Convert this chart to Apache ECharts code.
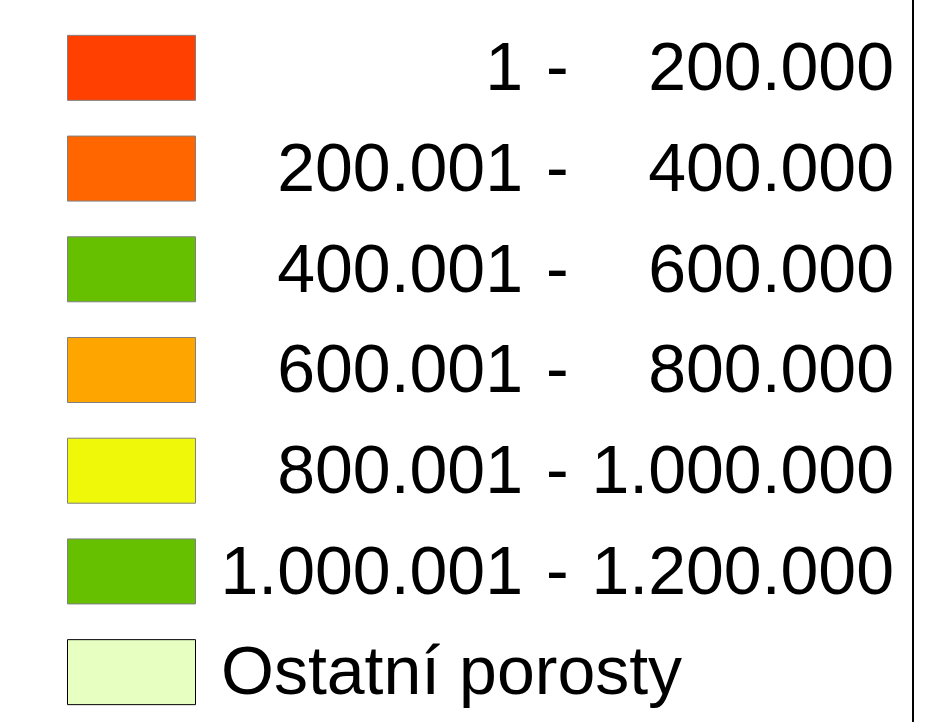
<!DOCTYPE html>
<html>
<head>
<meta charset="utf-8">
<style>
  html, body { margin: 0; padding: 0; background: #fff; }
  #legendChart { width: 928px; height: 722px; }
</style>
<script src="https://cdn.jsdelivr.net/npm/echarts@6/dist/echarts.min.js"></script>
</head>
<body>
<div id="legendChart"></div>
<script>
// legend classes (lower bound, upper bound) and their fill colours
const rangeFrom = ['1', '200.001', '400.001', '600.001', '800.001', '1.000.001', 'Ostatní porosty'];
const rangeTo = ['200.000', '400.000', '600.000', '800.000', '1.000.000', '1.200.000', ''];
const swatchColors = ['#ff4000', '#ff6600', '#66c000', '#ffa500', '#f0f80a', '#66c000', '#e8ffc2'];
const swatchBorders = ['#808080', '#808080', '#808080', '#808080', '#808080', '#808080', '#000000'];

const rows = rangeFrom.map((_, i) => i);

const myChart = echarts.init(document.getElementById('legendChart'));
myChart.setOption({
    animation: false,
    grid: {
        left: 0,
        right: 15,
        top: 17,
        bottom: 0
    },
    xAxis: {
        type: 'value',
        min: 0,
        max: 913,
        show: false
    },
    yAxis: {
        type: 'category',
        data: rows,
        inverse: true,
        show: false
    },
    graphic: [{
        type: 'line',
        shape: { x1: 913, y1: 0, x2: 913, y2: 722 },
        style: { stroke: '#000', lineWidth: 2 }
    }],
    series: [{
        type: 'custom',
        data: rows.map(i => [0, i]),
        renderItem: function (params, api) {
            const i = api.value(1);
            const y = api.coord([0, i])[1];
            const ty = y + 4;
            const txt = (x, text, align) => ({
                type: 'text',
                style: {
                    x: x, y: ty, text: text,
                    fontFamily: 'Liberation Sans',
                    fontSize: 68,
                    fill: '#000',
                    align: align,
                    verticalAlign: 'middle'
                }
            });
            const children = [{
                type: 'rect',
                shape: { x: 67.5, y: y - 32, width: 128, height: 65 },
                style: { fill: swatchColors[i], stroke: swatchBorders[i], lineWidth: 1 }
            }];
            if (rangeTo[i]) {
                children.push(txt(523, rangeFrom[i], 'right'), txt(546, '-', 'left'), txt(894, rangeTo[i], 'right'));
            } else {
                children.push(txt(221, rangeFrom[i], 'left'));
            }
            return { type: 'group', children: children };
        }
    }]
});
</script>
</body>
</html>
